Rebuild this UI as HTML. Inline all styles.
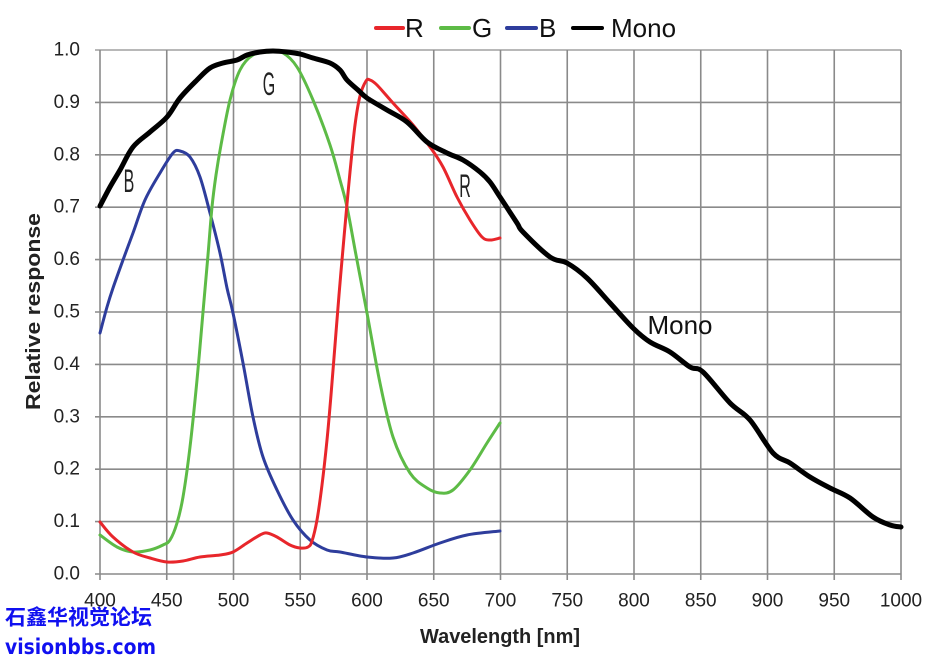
<!DOCTYPE html>
<html><head><meta charset="utf-8"><style>
html,body{margin:0;padding:0;background:#fff;}
svg{display:block;}
</style></head><body>
<svg id="chart" width="945" height="660" viewBox="0 0 945 660" xmlns="http://www.w3.org/2000/svg" font-family="Liberation Sans, Arial, sans-serif">
<rect width="945" height="660" fill="#fff"/>
<g stroke="#8a8a8a" stroke-width="1.6" fill="none">
<line x1="95" y1="50" x2="901" y2="50" stroke="#a0a0a0"/>
<line x1="95" y1="102.4" x2="901" y2="102.4"/>
<line x1="95" y1="154.8" x2="901" y2="154.8"/>
<line x1="95" y1="207.2" x2="901" y2="207.2"/>
<line x1="95" y1="259.6" x2="901" y2="259.6"/>
<line x1="95" y1="312" x2="901" y2="312"/>
<line x1="95" y1="364.4" x2="901" y2="364.4"/>
<line x1="95" y1="416.8" x2="901" y2="416.8"/>
<line x1="95" y1="469.2" x2="901" y2="469.2"/>
<line x1="95" y1="521.6" x2="901" y2="521.6"/>
<line x1="95" y1="574" x2="901" y2="574"/>
<line x1="100" y1="50" x2="100" y2="580"/>
<line x1="166.75" y1="50" x2="166.75" y2="580"/>
<line x1="233.5" y1="50" x2="233.5" y2="580"/>
<line x1="300.25" y1="50" x2="300.25" y2="580"/>
<line x1="367" y1="50" x2="367" y2="580"/>
<line x1="433.75" y1="50" x2="433.75" y2="580"/>
<line x1="500.5" y1="50" x2="500.5" y2="580"/>
<line x1="567.25" y1="50" x2="567.25" y2="580"/>
<line x1="634" y1="50" x2="634" y2="580"/>
<line x1="700.75" y1="50" x2="700.75" y2="580"/>
<line x1="767.5" y1="50" x2="767.5" y2="580"/>
<line x1="834.25" y1="50" x2="834.25" y2="580"/>
<line x1="901" y1="50" x2="901" y2="580"/>
</g>
<g font-size="19" fill="#222" text-anchor="end" dominant-baseline="central">
<text x="80" y="50">1.0</text>
<text x="80" y="102.4">0.9</text>
<text x="80" y="154.8">0.8</text>
<text x="80" y="207.2">0.7</text>
<text x="80" y="259.6">0.6</text>
<text x="80" y="312">0.5</text>
<text x="80" y="364.4">0.4</text>
<text x="80" y="416.8">0.3</text>
<text x="80" y="469.2">0.2</text>
<text x="80" y="521.6">0.1</text>
<text x="80" y="574">0.0</text>
</g>
<g font-size="19" fill="#222" text-anchor="middle" dominant-baseline="central">
<text x="100" y="601">400</text>
<text x="166.75" y="601">450</text>
<text x="233.5" y="601">500</text>
<text x="300.25" y="601">550</text>
<text x="367" y="601">600</text>
<text x="433.75" y="601">650</text>
<text x="500.5" y="601">700</text>
<text x="567.25" y="601">750</text>
<text x="634" y="601">800</text>
<text x="700.75" y="601">850</text>
<text x="767.5" y="601">900</text>
<text x="834.25" y="601">950</text>
<text x="901" y="601">1000</text>
</g>
<text x="420" y="643" font-size="20" font-weight="bold" fill="#222" textLength="160" lengthAdjust="spacingAndGlyphs">Wavelength [nm]</text>
<text transform="translate(40,410) rotate(-90)" font-size="20" font-weight="bold" fill="#222" textLength="197" lengthAdjust="spacingAndGlyphs">Relative response</text>
<g id="curves" fill="none" stroke-linejoin="round" stroke-linecap="round">
<polyline stroke="#2e3d9c" stroke-width="3" points="100,333 107,307 113,288 123,260 133,233 145,200 160,173 173,153 180,151 190,157 200,177 210,213 220,253 227,288 233,313 243,363 253,417 263,457 277,490 293,520 310,540 327,550 340,552 367,557 393,558 413,553 440,543 467,535 500,531"/>
<polyline stroke="#5dbb46" stroke-width="3" points="100,535 117,547 133,552 150,550 163,545 170,540 177,523 183,497 190,447 197,380 203,312 208,255 212,207 216,175 221,145 230,100 240,70 253,55 270,52 283,53 297,67 313,100 330,145 340,180 347,207 356,255 367,313 380,383 393,437 410,473 427,488 440,493 453,490 470,470 487,443 500,423"/>
<polyline stroke="#e8262b" stroke-width="3" points="100,522 113,537 133,552 150,558 167,562 183,561 200,557 220,555 233,552 247,543 260,535 267,533 277,537 290,545 300,548 308,547 312,541 317,520 322,485 327,440 331,395 335,345 339,295 342,260 346,215 350,172 355,125 360,96 366,81 370,80 377,85 393,103 413,125 430,147 443,167 457,197 470,220 482,237 490,240 500,238"/>
<polyline stroke="#000" stroke-width="5" points="100,206 110,187 120,170 133,147 150,132 167,117 180,98 197,80 210,68 223,63 237,60 247,55 260,52 273,51 287,52 300,54 313,58 330,63 340,70 347,80 358,90 367,98 387,110 407,122 427,142 447,153 463,160 480,172 490,182 500,197 517,223 523,232 550,257 567,263 587,278 610,303 633,328 650,342 670,352 690,367 703,372 730,403 750,420 773,453 790,463 810,477 830,488 850,498 873,517 890,525 901,527"/>
</g>
<g fill="#222" font-size="32" text-anchor="middle" dominant-baseline="central">
<text transform="translate(129,182) scale(0.5,1)" x="0" y="0">B</text>
<text transform="translate(269,85) scale(0.5,1)" x="0" y="0">G</text>
<text transform="translate(465,187) scale(0.5,1)" x="0" y="0">R</text>
</g>
<text x="680" y="325" font-size="26" fill="#111" text-anchor="middle" dominant-baseline="central">Mono</text>
<g stroke-width="4" stroke-linecap="round">
<line x1="376" y1="28" x2="403" y2="28" stroke="#e8262b"/>
<line x1="441" y1="28" x2="469" y2="28" stroke="#5dbb46"/>
<line x1="507" y1="28" x2="536" y2="28" stroke="#2e3d9c"/>
<line x1="573" y1="28" x2="602" y2="28" stroke="#000"/>
</g>
<g font-size="26" fill="#111" dominant-baseline="central">
<text x="405" y="28">R</text>
<text x="472" y="28">G</text>
<text x="539" y="28">B</text>
<text x="611" y="28">Mono</text>
</g>
<text x="5" y="618" font-size="21" font-weight="bold" fill="#1010f0" font-family="Liberation Sans, Noto Sans CJK SC, sans-serif" dominant-baseline="central" textLength="147" lengthAdjust="spacingAndGlyphs">石鑫华视觉论坛</text>
<text x="5" y="647" font-size="21" font-weight="bold" fill="#1010f0" font-family="DejaVu Sans, Liberation Sans, sans-serif" dominant-baseline="central" textLength="151" lengthAdjust="spacingAndGlyphs">visionbbs.com</text>
</svg>
<script>
(function(){
  try{
    var NS="http://www.w3.org/2000/svg";
    var pls=document.querySelectorAll('#curves polyline');
    for(var k=0;k<pls.length;k++){
      var pl=pls[k];
      var pts=pl.getAttribute('points').trim().split(/\s+/).map(function(s){var a=s.split(',');return [parseFloat(a[0]),parseFloat(a[1])];});
      var d='M'+pts[0][0]+','+pts[0][1];
      for(var i=0;i<pts.length-1;i++){
        var p0=pts[i>0?i-1:i],p1=pts[i],p2=pts[i+1],p3=pts[i+2<pts.length?i+2:i+1];
        var c1x=p1[0]+(p2[0]-p0[0])/6,c1y=p1[1]+(p2[1]-p0[1])/6;
        var c2x=p2[0]-(p3[0]-p1[0])/6,c2y=p2[1]-(p3[1]-p1[1])/6;
        d+=' C'+c1x.toFixed(2)+','+c1y.toFixed(2)+' '+c2x.toFixed(2)+','+c2y.toFixed(2)+' '+p2[0]+','+p2[1];
      }
      var path=document.createElementNS(NS,'path');
      path.setAttribute('d',d);
      path.setAttribute('stroke',pl.getAttribute('stroke'));
      path.setAttribute('stroke-width',pl.getAttribute('stroke-width'));
      pl.parentNode.replaceChild(path,pl);
    }
  }catch(e){}
})();
</script>
</body></html>
